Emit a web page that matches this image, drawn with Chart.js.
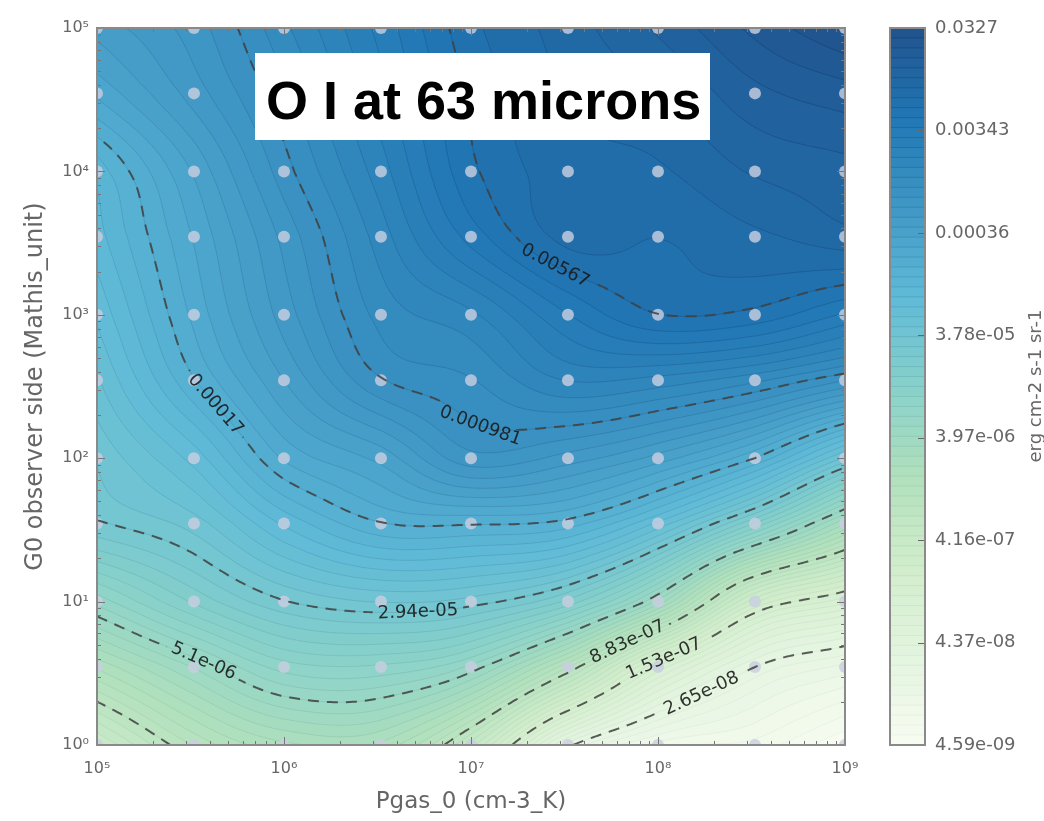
<!DOCTYPE html>
<html><head><meta charset="utf-8">
<script src="https://cdn.jsdelivr.net/npm/chart.js@4.4.1/dist/chart.umd.min.js"></script>
<style>
html,body{margin:0;padding:0;background:#fff;width:1044px;height:821px;overflow:hidden;}
#wrap{position:relative;width:1044px;height:821px;}
#main{position:absolute;left:0;top:0;}
#cbar{position:absolute;left:860px;top:0;}
#title{position:absolute;left:255px;top:53px;width:455px;height:87px;background:#fff;}
#title span{position:absolute;left:11px;top:20px;font-family:"Liberation Sans",Arial,sans-serif;font-weight:bold;font-size:54px;line-height:1;color:#000;white-space:nowrap;}
#cblabel{position:absolute;left:885px;top:375px;width:300px;height:22px;line-height:22px;text-align:center;font-family:"DejaVu Sans";font-size:18px;color:#666;transform:rotate(-90deg);white-space:nowrap;}
</style></head>
<body><div id="wrap">
<canvas id="main" width="1044" height="821"></canvas>
<canvas id="cbar" width="184" height="821"></canvas>
<div id="title"><span>O I at 63 microns</span></div>
<div id="cblabel">erg cm-2 s-1 sr-1</div>
</div>
<script>
// ---------------- DATA ----------------
const pgasGrid = [1e5, 3.3e5, 1e6, 3.3e6, 1e7, 3.3e7, 1e8, 3.3e8, 1e9];      // Pgas_0 model grid
const g0Grid   = [1, 3.5, 10, 35, 100, 350, 1e3, 3.5e3, 1e4, 3.5e4, 1e5];     // G0 model grid
// log10 of O I 63 micron intensity (erg cm-2 s-1 sr-1), one array per G0 row, columns follow pgasGrid
const logI_G0_1     = [-6.45, -5.95, -5.70, -5.70, -6.30, -7.53, -8.00, -8.09, -8.338];
const logI_G0_3p5   = [-5.75, -5.38, -5.06, -5.03, -5.23, -5.95, -6.93, -7.577, -7.80];
const logI_G0_10    = [-5.16, -4.80, -4.54, -4.43, -4.48, -4.75, -5.42, -6.595, -6.975];
const logI_G0_35    = [-4.55, -4.39, -4.04, -3.78, -3.76, -3.82, -4.18, -4.83, -5.575];
const logI_G0_100   = [-4.42, -4.11, -3.66, -3.45, -3.14, -3.24, -3.43, -3.77, -4.36];
const logI_G0_350   = [-4.26, -3.78, -3.39, -3.02, -2.92, -2.72, -2.76, -2.89, -3.10];
const logI_G0_1e3   = [-4.13, -3.65, -3.25, -2.88, -2.74, -2.44, -2.25, -2.28, -2.45];
const logI_G0_3p5e3 = [-4.00, -3.57, -3.17, -2.77, -2.40, -2.12, -2.15, -2.08, -2.00];
const logI_G0_1e4   = [-3.92, -3.47, -3.05, -2.67, -2.27, -2.10, -2.07, -1.95, -1.90];
const logI_G0_3p5e4 = [-3.56, -3.25, -2.94, -2.57, -2.23, -2.05, -1.97, -1.80, -1.72];
const logI_G0_1e5   = [-3.35, -3.15, -2.84, -2.50, -2.18, -2.01, -1.85, -1.65, -1.485];

const zMin = 4.59e-9, zMax = 0.0327;
const contourLevels = [2.65e-8, 1.53e-7, 8.83e-7, 5.1e-6, 2.94e-5, 0.00017, 0.000981, 0.00567];
const contourLabels = ['2.65e-08', '1.53e-07', '8.83e-07', '5.1e-06', '2.94e-05', '0.00017', '0.000981', '0.00567'];
const labelAnchorX  = [1.78e8, 1.05e8, 6.92e7, 3.69e5, 5.14e6, 4.17e5, 1.15e7, 2.81e7];
const labelAnchorY  = [2.0, 4.11, 5.23, 3.79, 8.2, 228, 190, 2120];
const cbarTickValues = [4.59e-9, 4.37e-8, 4.16e-7, 3.97e-6, 3.78e-5, 0.00036, 0.00343, 0.0327];
const cbarTickLabels = ['4.59e-09', '4.37e-08', '4.16e-07', '3.97e-06', '3.78e-05', '0.00036', '0.00343', '0.0327'];
const xTickValues = [1e5, 1e6, 1e7, 1e8, 1e9];
const yTickValues = [1, 10, 100, 1e3, 1e4, 1e5];
const xTitle = 'Pgas_0 (cm-3_K)';
const yTitle = 'G0 observer side (Mathis_unit)';

// ---------------- helpers ----------------
const Z = [logI_G0_1, logI_G0_3p5, logI_G0_10, logI_G0_35, logI_G0_100, logI_G0_350,
           logI_G0_1e3, logI_G0_3p5e3, logI_G0_1e4, logI_G0_3p5e4, logI_G0_1e5];
const U = pgasGrid.map(Math.log10), V = g0Grid.map(Math.log10);
const LMIN = Math.log10(zMin), LMAX = Math.log10(zMax);
const NB = 72;
const GNBU = [[247,252,240],[224,243,219],[204,235,197],[168,221,181],[123,204,196],[78,179,211],[43,140,190],[8,104,172],[8,64,129]];
function cmap(t){ t=Math.max(0,Math.min(1,t)); const p=t*8; const i=Math.min(7,Math.floor(p)); const f=p-i; const a=GNBU[i], b=GNBU[i+1];
  return [0,1,2].map(k=>(a[k]+(b[k]-a[k])*f)*0.9+25.5); }
function bandOf(z){ let b=Math.floor((z-LMIN)/(LMAX-LMIN)*NB); return b<0?0:(b>NB-1?NB-1:b); }
const bandColor = Array.from({length:NB}, (_,b)=>cmap((b+0.5)/NB));
function lineColor(b){ const t=b/NB, c=cmap(t); const a=0.12+0.55*Math.pow(t,1.6); return `rgba(${c[0]*0.7|0},${c[1]*0.74|0},${c[2]*0.8|0},${a.toFixed(3)})`; }
function cellIdx(arr, x){ let i=0; while(i<arr.length-2 && x>arr[i+1]) i++; return i; }
// grid value with linear extrapolation beyond the edges
function gz(j,i){
  const nj=Z.length, ni=Z[0].length;
  if(i<0) return 2*gz(j,0)-gz(j,1);
  if(i>ni-1) return 2*gz(j,ni-1)-gz(j,ni-2);
  if(j<0) return 2*Z[0][i]-Z[1][i];
  if(j>nj-1) return 2*Z[nj-1][i]-Z[nj-2][i];
  return Z[j][i];
}
function cr(p0,p1,p2,p3,s){ return 0.5*(2*p1 + (p2-p0)*s + (2*p0-5*p1+4*p2-p3)*s*s + (3*p1-p0-3*p2+p3)*s*s*s); }
function field(u,v){
  const i=cellIdx(U,u), j=cellIdx(V,v);
  let s=(u-U[i])/(U[i+1]-U[i]), t=(v-V[j])/(V[j+1]-V[j]);
  s=Math.max(0,Math.min(1,s)); t=Math.max(0,Math.min(1,t));
  const r=[];
  for(let dj=-1;dj<=2;dj++) r.push(cr(gz(j+dj,i-1),gz(j+dj,i),gz(j+dj,i+1),gz(j+dj,i+2),s));
  return cr(r[0],r[1],r[2],r[3],t);
}
const SUP={'0':'⁰','1':'¹','2':'²','3':'³','4':'⁴','5':'⁵','6':'⁶','7':'⁷','8':'⁸','9':'⁹','-':'⁻'};
const pow10Label = v => '10' + String(Math.round(Math.log10(v))).split('').map(c=>SUP[c]).join('');

function segmentsFor(F, L){
  const ny=F.length, nx=F[0].length, pts=new Map(), segs=[];
  function ep(t,i,j){ const k=t+i+','+j; if(!pts.has(k)){ let a,b,s;
      if(t==='h'){a=F[j][i];b=F[j][i+1];s=(L-a)/(b-a);pts.set(k,[i+s,j]);}
      else {a=F[j][i];b=F[j+1][i];s=(L-a)/(b-a);pts.set(k,[i,j+s]);} } return k; }
  for(let j=0;j<ny-1;j++) for(let i=0;i<nx-1;i++){
    const a=F[j][i], b=F[j][i+1], c=F[j+1][i+1], d=F[j+1][i];
    const A=a>L,B=b>L,C=c>L,D=d>L;
    if(A===B && B===C && C===D) continue;
    const eB=A!==B?ep('h',i,j):null, eR=B!==C?ep('v',i+1,j):null, eT=D!==C?ep('h',i,j+1):null, eL=A!==D?ep('v',i,j):null;
    const list=[eB,eR,eT,eL].filter(e=>e);
    if(list.length===2) segs.push([list[0],list[1]]);
    else if(list.length===4){ const ctr=(a+b+c+d)/4>L;
      if(A===ctr){segs.push([eB,eR]);segs.push([eT,eL]);} else {segs.push([eL,eB]);segs.push([eR,eT]);} }
  }
  return {pts, segs};
}
function marching(F, L){
  const {pts, segs} = segmentsFor(F, L);
  const adj=new Map(); segs.forEach((s,idx)=>{ for(const k of s){ if(!adj.has(k)) adj.set(k,[]); adj.get(k).push(idx);} });
  const used=new Uint8Array(segs.length), lines=[];
  function walk(k,s){ const line=[pts.get(k)]; while(s!==undefined && !used[s]){ used[s]=1; const o=segs[s][0]===k?segs[s][1]:segs[s][0];
      line.push(pts.get(o)); k=o; s=(adj.get(k)||[]).find(t=>!used[t]); } return line; }
  for(const [k,l] of adj){ if(l.length===1 && !used[l[0]]) lines.push(walk(k,l[0])); }
  for(let s=0;s<segs.length;s++) if(!used[s]) lines.push(walk(segs[s][0],s));
  return lines;
}

// ---------------- plugins ----------------
const NU=241, NV=301;
let FCACHE=null;
function sampleField(){ if(FCACHE) return FCACHE; const u0=U[0], u1=U[U.length-1], v0=V[0], v1=V[V.length-1], F=[];
  for(let j=0;j<NV;j++){ const row=[]; const v=v0+(v1-v0)*j/(NV-1);
    for(let i=0;i<NU;i++) row.push(field(u0+(u1-u0)*i/(NU-1), v)); F.push(row); }
  FCACHE=F; return F; }
function pixelMapper(x,y){ const u0=U[0], u1=U[U.length-1], v0=V[0], v1=V[V.length-1];
  return p => [x.getPixelForValue(Math.pow(10, u0+(u1-u0)*p[0]/(NU-1))), y.getPixelForValue(Math.pow(10, v0+(v1-v0)*p[1]/(NV-1)))]; }

const heatPlugin = {
  id:'heat',
  beforeDatasetsDraw(chart){
    const {ctx, chartArea:a, scales:{x,y}} = chart;
    const W=Math.round(a.right-a.left), H=Math.round(a.bottom-a.top);
    if(!chart.$heat){
      const us=new Float64Array(W), vs=new Float64Array(H);
      for(let i=0;i<W;i++) us[i]=Math.log10(x.getValueForPixel(a.left+i+0.5));
      for(let j=0;j<H;j++) vs[j]=Math.log10(y.getValueForPixel(a.top+j+0.5));
      const img=ctx.createImageData(W,H), d=img.data;
      for(let j=0;j<H;j++) for(let i=0;i<W;i++){
        const k=j*W+i, c=bandColor[bandOf(field(us[i],vs[j]))];
        d[4*k]=c[0]; d[4*k+1]=c[1]; d[4*k+2]=c[2]; d[4*k+3]=255;
      }
      const off=document.createElement('canvas'); off.width=W; off.height=H; off.getContext('2d').putImageData(img,0,0);
      chart.$heat=off;
    }
    ctx.save(); ctx.beginPath(); ctx.rect(a.left,a.top,W,H); ctx.clip();
    ctx.drawImage(chart.$heat,a.left,a.top);
    ctx.filter='blur(1px)'; ctx.drawImage(chart.$heat,a.left,a.top); ctx.filter='none';
    // thin solid contour lines between the filled bands
    const F=sampleField(), toPx=pixelMapper(x,y);
    ctx.lineWidth=1;
    for(let b=1;b<NB;b++){
      const L=LMIN+(LMAX-LMIN)*b/NB; const {pts,segs}=segmentsFor(F,L);
      if(!segs.length) continue;
      ctx.strokeStyle=lineColor(b); ctx.beginPath();
      segs.forEach(s=>{ const p=toPx(pts.get(s[0])), q=toPx(pts.get(s[1])); ctx.moveTo(p[0],p[1]); ctx.lineTo(q[0],q[1]); });
      ctx.stroke();
    }
    ctx.restore();
  },
  afterDatasetsDraw(chart){
    const {ctx, chartArea:a, scales:{x,y}} = chart;
    const F=sampleField(), toPx=pixelMapper(x,y);
    ctx.save();
    ctx.font='18px "DejaVu Sans"';
    const allLines=[], labels=[];
    contourLevels.forEach((lev,li)=>{
      const lines=marching(F, Math.log10(lev)).map(l=>l.map(toPx));
      allLines.push(lines);
      const ax=x.getPixelForValue(labelAnchorX[li]), ay=y.getPixelForValue(labelAnchorY[li]);
      let best=null, bd=1e18;
      lines.forEach((l,lidx)=>l.forEach((p,pi)=>{ const dd=(p[0]-ax)**2+(p[1]-ay)**2; if(dd<bd){bd=dd;best=[lidx,pi];} }));
      if(best){ const l=lines[best[0]], pi=best[1];
        const p0=l[Math.max(0,pi-8)], p1=l[Math.min(l.length-1,pi+8)];
        let ang=Math.atan2(p1[1]-p0[1], p1[0]-p0[0]);
        if(ang>Math.PI/2) ang-=Math.PI; if(ang<-Math.PI/2) ang+=Math.PI;
        labels.push({x:l[pi][0], y:l[pi][1], ang, text:contourLabels[li], w:ctx.measureText(contourLabels[li]).width});
      }
    });
    ctx.beginPath(); ctx.rect(a.left,a.top,a.right-a.left,a.bottom-a.top);
    labels.forEach(L=>{ const hw=L.w/2+5, hh=9, c=Math.cos(L.ang), s=Math.sin(L.ang);
      const cs=[[-hw,-hh],[hw,-hh],[hw,hh],[-hw,hh]].map(([dx,dy])=>[L.x+dx*c-dy*s, L.y+dx*s+dy*c]);
      ctx.moveTo(cs[0][0],cs[0][1]); for(let k=1;k<4;k++) ctx.lineTo(cs[k][0],cs[k][1]); ctx.closePath(); });
    ctx.clip('evenodd');
    ctx.strokeStyle='rgba(65,65,65,0.85)'; ctx.lineWidth=2; ctx.setLineDash([11,8]); ctx.lineCap='butt';
    allLines.forEach(lines=>lines.forEach(l=>{ ctx.beginPath(); ctx.moveTo(l[0][0],l[0][1]); for(let k=1;k<l.length;k++) ctx.lineTo(l[k][0],l[k][1]); ctx.stroke(); }));
    ctx.restore();
    ctx.save(); ctx.font='18px "DejaVu Sans"'; ctx.fillStyle='rgba(25,25,25,0.9)'; ctx.textAlign='center'; ctx.textBaseline='middle';
    labels.forEach(L=>{ ctx.save(); ctx.translate(L.x,L.y); ctx.rotate(L.ang); ctx.fillText(L.text,0,0); ctx.restore(); });
    ctx.restore();
  },
  afterDraw(chart){
    const {ctx, chartArea:a, scales:{x,y}} = chart;
    ctx.save(); ctx.strokeStyle='#777'; ctx.lineWidth=1;
    for(let k=5;k<=9;k++) for(let m=1;m<=9;m++){ const v=m*Math.pow(10,k); if(v>1e9*1.0001) break;
      const px=Math.round(x.getPixelForValue(v))+0.5, len=m===1?8:4;
      ctx.beginPath(); ctx.moveTo(px,a.bottom); ctx.lineTo(px,a.bottom-len); ctx.moveTo(px,a.top); ctx.lineTo(px,a.top+len); ctx.stroke(); }
    for(let k=0;k<=5;k++) for(let m=1;m<=9;m++){ const v=m*Math.pow(10,k); if(v>1e5*1.0001) break;
      const py=Math.round(y.getPixelForValue(v))+0.5, len=m===1?8:4;
      ctx.beginPath(); ctx.moveTo(a.left,py); ctx.lineTo(a.left+len,py); ctx.moveTo(a.right,py); ctx.lineTo(a.right-len,py); ctx.stroke(); }
    ctx.strokeStyle='#8a8a8a'; ctx.lineWidth=2; ctx.strokeRect(a.left,a.top,a.right-a.left,a.bottom-a.top);
    ctx.restore();
  }
};

const cbarPlugin = {
  id:'cbar',
  afterDraw(chart){
    const {ctx, chartArea:a, scales:{y}} = chart;
    const H=Math.round(a.bottom-a.top), W=a.right-a.left;
    ctx.save();
    for(let j=0;j<H;j++){ const z=Math.log10(y.getValueForPixel(a.top+j+0.5)); const b=bandOf(z);
      const c=bandColor[b];
      ctx.fillStyle=`rgb(${c[0]},${c[1]},${c[2]})`; ctx.fillRect(a.left,a.top+j,W,1); }
    for(let b=1;b<NB;b++){ const py=y.getPixelForValue(Math.pow(10, LMIN+(LMAX-LMIN)*b/NB));
      ctx.strokeStyle=lineColor(b); ctx.lineWidth=1; ctx.beginPath(); ctx.moveTo(a.left,py); ctx.lineTo(a.right,py); ctx.stroke(); }
    ctx.strokeStyle='#666'; ctx.lineWidth=1;
    cbarTickValues.forEach(v=>{ const py=Math.round(y.getPixelForValue(v))+0.5; ctx.beginPath(); ctx.moveTo(a.right-7,py); ctx.lineTo(a.right,py); ctx.stroke(); });
    ctx.strokeStyle='#8a8a8a'; ctx.lineWidth=2; ctx.strokeRect(a.left,a.top,W,a.bottom-a.top);
    ctx.restore();
  }
};

Chart.defaults.font.family = 'DejaVu Sans';
const dots=[]; g0Grid.forEach(g=>pgasGrid.forEach(p=>dots.push({x:p,y:g})));

new Chart(document.getElementById('main'), {
  type:'scatter',
  data:{datasets:[{data:dots, pointRadius:6, pointBackgroundColor:'rgba(200,206,224,0.82)', pointBorderWidth:0, clip:0}]},
  options:{
    responsive:false, animation:false, events:[],
    layout:{padding:{left:0, top:28, right:199, bottom:0}},
    plugins:{legend:{display:false}, tooltip:{enabled:false}},
    scales:{
      x:{type:'logarithmic', position:'bottom', min:1e5, max:1e9,
         grid:{display:false, drawTicks:false}, border:{display:false},
         ticks:{autoSkip:false, maxRotation:0, padding:14, color:'#666', font:{size:16}, callback:v=>pow10Label(v)},
         afterBuildTicks:s=>{ s.ticks=xTickValues.map(v=>({value:v})); },
         afterFit:s=>{ s.height=76; },
         title:{display:true, text:xTitle, color:'#666', font:{size:23}, padding:{top:0,bottom:5}}},
      y:{type:'logarithmic', position:'left', min:1, max:1e5,
         grid:{display:false, drawTicks:false}, border:{display:false},
         ticks:{autoSkip:false, padding:8, color:'#666', font:{size:16}, callback:v=>pow10Label(v)},
         afterBuildTicks:s=>{ s.ticks=yTickValues.map(v=>({value:v})); },
         afterFit:s=>{ s.width=97; },
         title:{display:true, text:yTitle, color:'#666', font:{size:24}, padding:{top:21,bottom:0}}}
    }
  },
  plugins:[heatPlugin]
});

new Chart(document.getElementById('cbar'), {
  type:'scatter', data:{datasets:[]},
  options:{
    responsive:false, animation:false, events:[],
    layout:{padding:{left:30, top:28, right:0, bottom:76}},
    plugins:{legend:{display:false}, tooltip:{enabled:false}},
    scales:{
      x:{display:false, min:0, max:1},
      y:{type:'logarithmic', position:'right', min:zMin, max:zMax,
         grid:{display:false, drawTicks:false}, border:{display:false},
         ticks:{autoSkip:false, padding:10, color:'#666', font:{size:18}, callback:(v,i)=>cbarTickLabels[i]},
         afterBuildTicks:s=>{ s.ticks=cbarTickValues.map(v=>({value:v})); },
         afterFit:s=>{ s.width=119; }}
    }
  },
  plugins:[cbarPlugin]
});
</script>
</body></html>
